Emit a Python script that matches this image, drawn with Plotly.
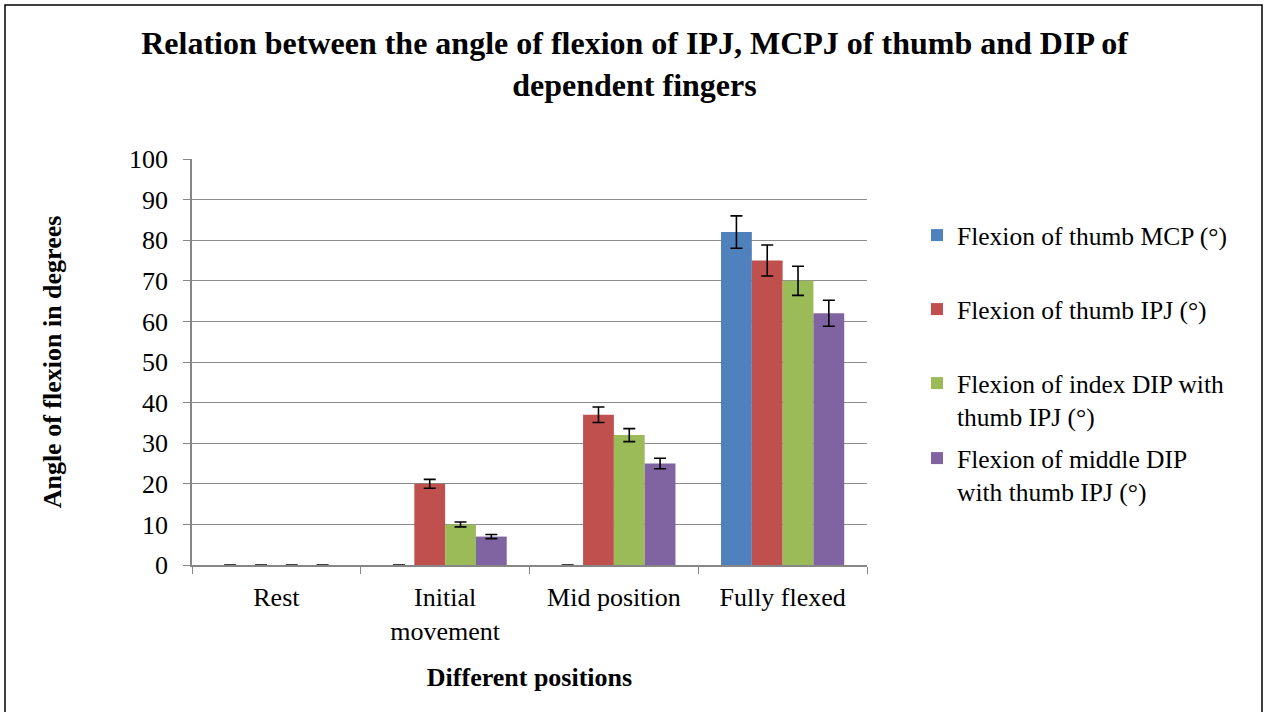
import plotly.graph_objects as go

categories = ["Rest", "Initial<br>movement", "Mid position", "Fully flexed"]

series_names = [
    "Flexion of thumb MCP (°)",
    "Flexion of thumb IPJ (°)",
    "Flexion of index DIP with<br>thumb IPJ (°)",
    "Flexion of middle DIP<br>with thumb IPJ (°)",
]
thumb_mcp = [0, 0, 0, 82]
thumb_ipj = [0, 20, 37, 75]
index_dip = [0, 10, 32, 70]
middle_dip = [0, 7, 25, 62]

thumb_mcp_err = [0, 0, 0, 4]
thumb_ipj_err = [0, 1.1, 1.9, 3.8]
index_dip_err = [0, 0.6, 1.6, 3.6]
middle_dip_err = [0, 0.5, 1.3, 3.2]

colors = ["#4F81BD", "#C0504D", "#9BBB59", "#8064A2"]
font = "Liberation Serif, Times New Roman, serif"

# plot area in pixels: x 192..867, y 159..565
L, R, T, B = 192, 867, 159, 565
W, H = R - L, B - T


def py(y):
    return (B - y) / H


def px(x):
    return (x - L) / W


fig = go.Figure()

values = [thumb_mcp, thumb_ipj, index_dip, middle_dip]
errors = [thumb_mcp_err, thumb_ipj_err, index_dip_err, middle_dip_err]
legend_ids = ["legend", "legend2", "legend3", "legend4"]
legend_y = [234, 308, 382, 457]

for i, (name, vals, errs) in enumerate(zip(series_names, values, errors)):
    fig.add_trace(
        go.Bar(
            x=categories,
            y=vals,
            name=name,
            legend=legend_ids[i],
            marker={"color": colors[i], "line": {"width": 0}},
            error_y={
                "type": "data",
                "array": [e if e > 0 else None for e in errs],
                "visible": True,
                "color": "black",
                "thickness": 1.6,
                "width": 6,
            },
        )
    )

legend_common = {
    "x": px(917),
    "xanchor": "left",
    "yanchor": "top",
    "font": {"family": font, "size": 25.5, "color": "black"},
    "itemwidth": 30,
    "valign": "top",
    "bgcolor": "rgba(0,0,0,0)",
}

layout_legends = {}
for lid, ly in zip(legend_ids, legend_y):
    layout_legends[lid] = dict(legend_common, y=py(ly - 22))

fig.update_layout(
    width=1269,
    height=712,
    paper_bgcolor="white",
    plot_bgcolor="white",
    barmode="group",
    bargap=0.27,
    bargroupgap=0,
    margin={"l": L, "r": 1269 - R, "t": T, "b": 712 - B},
    font={"family": font, "size": 26, "color": "black"},
    title={
        "text": "<b>Relation between the angle of flexion of IPJ, MCPJ of thumb and DIP of<br>dependent fingers</b>",
        "x": 0.5,
        "xanchor": "center",
        "y": 0.924,
        "yanchor": "top",
        "font": {"family": font, "size": 32, "color": "black"},
    },
    showlegend=True,
    xaxis={
        "title": {"text": "<b>Different positions</b>", "font": {"size": 26}, "standoff": 23},
        "showline": True,
        "linecolor": "#868686",
        "linewidth": 1.5,
        "ticks": "outside",
        "tickson": "boundaries",
        "ticklen": 7,
        "tickcolor": "#868686",
        "ticklabelstandoff": 8,
        "tickfont": {"size": 26},
    },
    yaxis={
        "title": {"text": "<b>Angle of flexion in degrees</b>", "font": {"size": 26}, "standoff": 60},
        "range": [0, 100],
        "dtick": 10,
        "showline": True,
        "linecolor": "#868686",
        "linewidth": 1.5,
        "ticks": "outside",
        "ticklen": 7,
        "tickcolor": "#868686",
        "ticklabelstandoff": 10,
        "showgrid": True,
        "gridcolor": "#8C8C8C",
        "gridwidth": 1.2,
        "zeroline": False,
        "tickfont": {"size": 26},
    },
    **layout_legends,
)

# outer chart border
fig.add_shape(
    type="rect",
    xref="paper",
    yref="paper",
    x0=px(5),
    x1=px(1262),
    y0=py(718),
    y1=py(5),
    line={"color": "black", "width": 1.5},
    fillcolor="rgba(0,0,0,0)",
    layer="below",
)

fig.write_html(
    "out.html",
    config={"displayModeBar": False},
    post_script="document.body.style.margin='0';",
)
